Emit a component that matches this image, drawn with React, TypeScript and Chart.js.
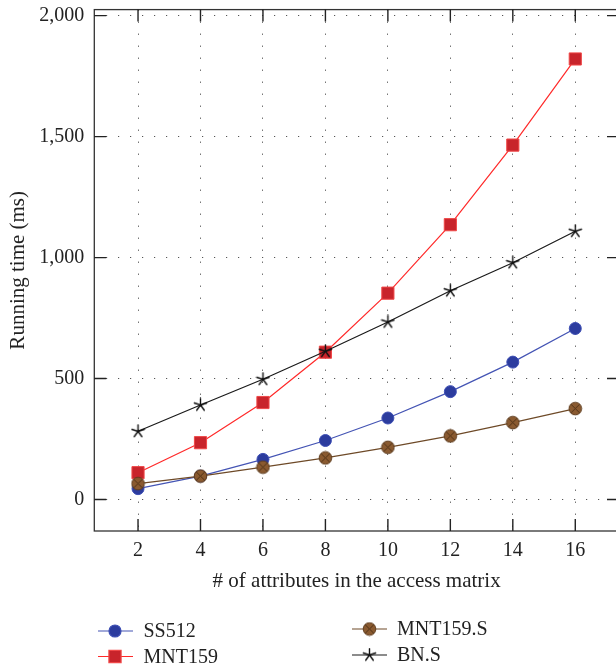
import React, { useEffect, useRef } from "react";
import { Chart, registerables } from "chart.js";
import { drawPoint } from "chart.js/helpers";

Chart.register(...registerables);

const xValues = [2, 4, 6, 8, 10, 12, 14, 16];
const ss512 = [45, 97, 166, 244, 337, 446, 568, 707];
const mnt159 = [111, 235, 401, 609, 853, 1136, 1465, 1821];
const mnt159S = [66, 97, 134, 172, 216, 263, 318, 376];
const bnS = [282, 391, 497, 613, 734, 863, 979, 1109];
const yTickValues = [0, 500, 1000, 1500, 2000];
const xTickValues = [2, 4, 6, 8, 10, 12, 14, 16];
const seriesNames = ["SS512", "MNT159", "MNT159.S", "BN.S"];
const xTitle = "# of attributes in the access matrix";
const yTitle = "Running time (ms)";

const FONT = "'Liberation Serif', 'Times New Roman', serif";

function makeCircleX(): HTMLCanvasElement {
  const c = document.createElement("canvas");
  c.width = 15;
  c.height = 15;
  const g = c.getContext("2d")!;
  g.beginPath();
  g.arc(7.5, 7.5, 6.3, 0, Math.PI * 2);
  g.fillStyle = "#8a5a30";
  g.fill();
  g.lineWidth = 1;
  g.strokeStyle = "#5e3c1e";
  g.stroke();
  g.beginPath();
  const d = 4.3;
  g.moveTo(7.5 - d, 7.5 - d);
  g.lineTo(7.5 + d, 7.5 + d);
  g.moveTo(7.5 + d, 7.5 - d);
  g.lineTo(7.5 - d, 7.5 + d);
  g.lineWidth = 0.9;
  g.strokeStyle = "#4a2e14";
  g.stroke();
  return c;
}

function makeStar(): HTMLCanvasElement {
  const c = document.createElement("canvas");
  c.width = 15;
  c.height = 15;
  const g = c.getContext("2d")!;
  g.beginPath();
  for (let i = 0; i < 5; i++) {
    const a = -Math.PI / 2 + (i * 2 * Math.PI) / 5;
    g.moveTo(7.5, 7.5);
    g.lineTo(7.5 + 6.5 * Math.cos(a), 7.5 + 6.5 * Math.sin(a));
  }
  g.lineWidth = 1.4;
  g.strokeStyle = "#111";
  g.lineCap = "round";
  g.stroke();
  return c;
}

const framePlugin = {
  id: "frameTicks",
  beforeDatasetsDraw(chart: any) {
    const { ctx, chartArea } = chart;
    const { left, right, top, bottom } = chartArea;
    const xs = chart.scales.x;
    const ys = chart.scales.y;
    ctx.save();
    ctx.strokeStyle = "#333";
    ctx.lineWidth = 1.3;
    ctx.strokeRect(left, top, right - left, bottom - top);
    ctx.lineWidth = 1.4;
    ctx.strokeStyle = "#222";
    const tl = 12;
    ctx.beginPath();
    xTickValues.forEach((v) => {
      const px = xs.getPixelForValue(v);
      ctx.moveTo(px, bottom);
      ctx.lineTo(px, bottom - tl);
      ctx.moveTo(px, top);
      ctx.lineTo(px, top + tl);
    });
    yTickValues.forEach((v) => {
      const py = ys.getPixelForValue(v);
      ctx.moveTo(left, py);
      ctx.lineTo(left + tl, py);
      ctx.moveTo(right, py);
      ctx.lineTo(right - tl, py);
    });
    ctx.stroke();
    ctx.restore();
  },
};

const legendPlugin = {
  id: "customLegend",
  afterDraw(chart: any) {
    const { ctx } = chart;
    const slots = [
      { x0: 98, x1: 133, mx: 115, tx: 143.5, y: 631 },
      { x0: 98, x1: 133, mx: 115, tx: 143.5, y: 656.5 },
      { x0: 352, x1: 387, mx: 369.5, tx: 397, y: 629 },
      { x0: 352, x1: 387, mx: 369.5, tx: 397, y: 655 },
    ];
    chart.data.datasets.forEach((ds: any, i: number) => {
      const s = slots[i];
      ctx.save();
      ctx.beginPath();
      ctx.strokeStyle = ds.borderColor;
      ctx.lineWidth = ds.borderWidth;
      ctx.moveTo(s.x0, s.y);
      ctx.lineTo(s.x1, s.y);
      ctx.stroke();
      ctx.fillStyle = ds.pointBackgroundColor;
      ctx.strokeStyle = ds.pointBorderColor;
      drawPoint(
        ctx,
        {
          pointStyle: ds.pointStyle,
          rotation: 0,
          radius: ds.pointRadius,
          borderWidth: ds.pointBorderWidth,
        },
        s.mx,
        s.y
      );
      ctx.fillStyle = "#222";
      ctx.font = `20px ${FONT}`;
      ctx.textBaseline = "middle";
      ctx.textAlign = "left";
      ctx.fillText(ds.label, s.tx, s.y + 1);
      ctx.restore();
    });
  },
};

export default function App() {
  const ref = useRef<HTMLCanvasElement | null>(null);

  useEffect(() => {
    if (!ref.current) return;
    const circleX = makeCircleX();
    const star = makeStar();
    const pts = (arr: number[]) => xValues.map((x, i) => ({ x, y: arr[i] }));

    const chart = new Chart(ref.current, {
      type: "line",
      data: {
        datasets: [
          {
            label: seriesNames[0],
            data: pts(ss512),
            borderColor: "#4454b4",
            borderWidth: 1.2,
            pointStyle: "circle",
            pointRadius: 6,
            pointBackgroundColor: "#2c3c9e",
            pointBorderColor: "#3e4fb4",
            pointBorderWidth: 1,
            order: 3,
          },
          {
            label: seriesNames[1],
            data: pts(mnt159),
            borderColor: "#ff2a2a",
            borderWidth: 1.2,
            pointStyle: "rect",
            pointRadius: 8.6,
            pointBackgroundColor: "#c8242b",
            pointBorderColor: "#f04848",
            pointBorderWidth: 1,
            order: 2,
          },
          {
            label: seriesNames[2],
            data: pts(mnt159S),
            borderColor: "#6e4a28",
            borderWidth: 1.2,
            pointStyle: circleX,
            pointRadius: 7,
            pointBackgroundColor: "#8a5a30",
            pointBorderColor: "#5e3c1e",
            pointBorderWidth: 1,
            order: 1,
          },
          {
            label: seriesNames[3],
            data: pts(bnS),
            borderColor: "#1a1a1a",
            borderWidth: 1.2,
            pointStyle: star,
            pointRadius: 7,
            pointBackgroundColor: "#111",
            pointBorderColor: "#111",
            pointBorderWidth: 1.4,
            order: 0,
          },
        ] as any,
      },
      options: {
        animation: false,
        responsive: false,
        devicePixelRatio: 1,
        layout: { padding: { left: 0, top: 6.5, right: 11, bottom: 0 } },
        plugins: {
          legend: { display: false },
          tooltip: { enabled: false },
        },
        elements: { line: { tension: 0 } },
        scales: {
          x: {
            type: "linear",
            min: 0.6,
            max: 17.4,
            afterBuildTicks: (s: any) => {
              s.ticks = xTickValues.map((v) => ({ value: v }));
            },
            afterFit: (s: any) => {
              s.height = 138;
              s.paddingLeft = 0;
              s.paddingRight = 0;
            },
            grid: {
              color: "#555",
              lineWidth: 1,
              drawTicks: false,
            },
            border: { display: false, dash: [1.2, 10.8] },
            ticks: {
              color: "#222",
              padding: 8,
              font: { family: FONT, size: 20 },
              callback: (v: any) => String(v),
            },
            title: {
              display: true,
              text: xTitle,
              color: "#222",
              font: { family: FONT, size: 21 },
              padding: { top: 0, bottom: 75 },
            },
          },
          y: {
            type: "linear",
            min: -130,
            max: 2025,
            afterBuildTicks: (s: any) => {
              s.ticks = yTickValues.map((v) => ({ value: v }));
            },
            afterFit: (s: any) => {
              s.width = 94.3;
              s.paddingTop = 0;
              s.paddingBottom = 0;
            },
            grid: {
              color: "#555",
              lineWidth: 1,
              drawTicks: false,
            },
            border: { display: false, dash: [1.2, 10.8] },
            ticks: {
              color: "#222",
              padding: 10,
              font: { family: FONT, size: 20 },
              callback: (v: any) => Number(v).toLocaleString("en-US"),
            },
            title: {
              display: true,
              text: yTitle,
              color: "#222",
              font: { family: FONT, size: 21 },
              padding: { top: 6, bottom: 0 },
            },
          },
        },
      } as any,
      plugins: [framePlugin, legendPlugin],
    });
    return () => chart.destroy();
  }, []);

  return (
    <div
      style={{
        position: "absolute",
        left: 0,
        top: 0,
        width: 616,
        height: 669,
        overflow: "hidden",
        background: "#fff",
      }}
    >
      <canvas ref={ref} width={630} height={669} style={{ display: "block" }} />
    </div>
  );
}
